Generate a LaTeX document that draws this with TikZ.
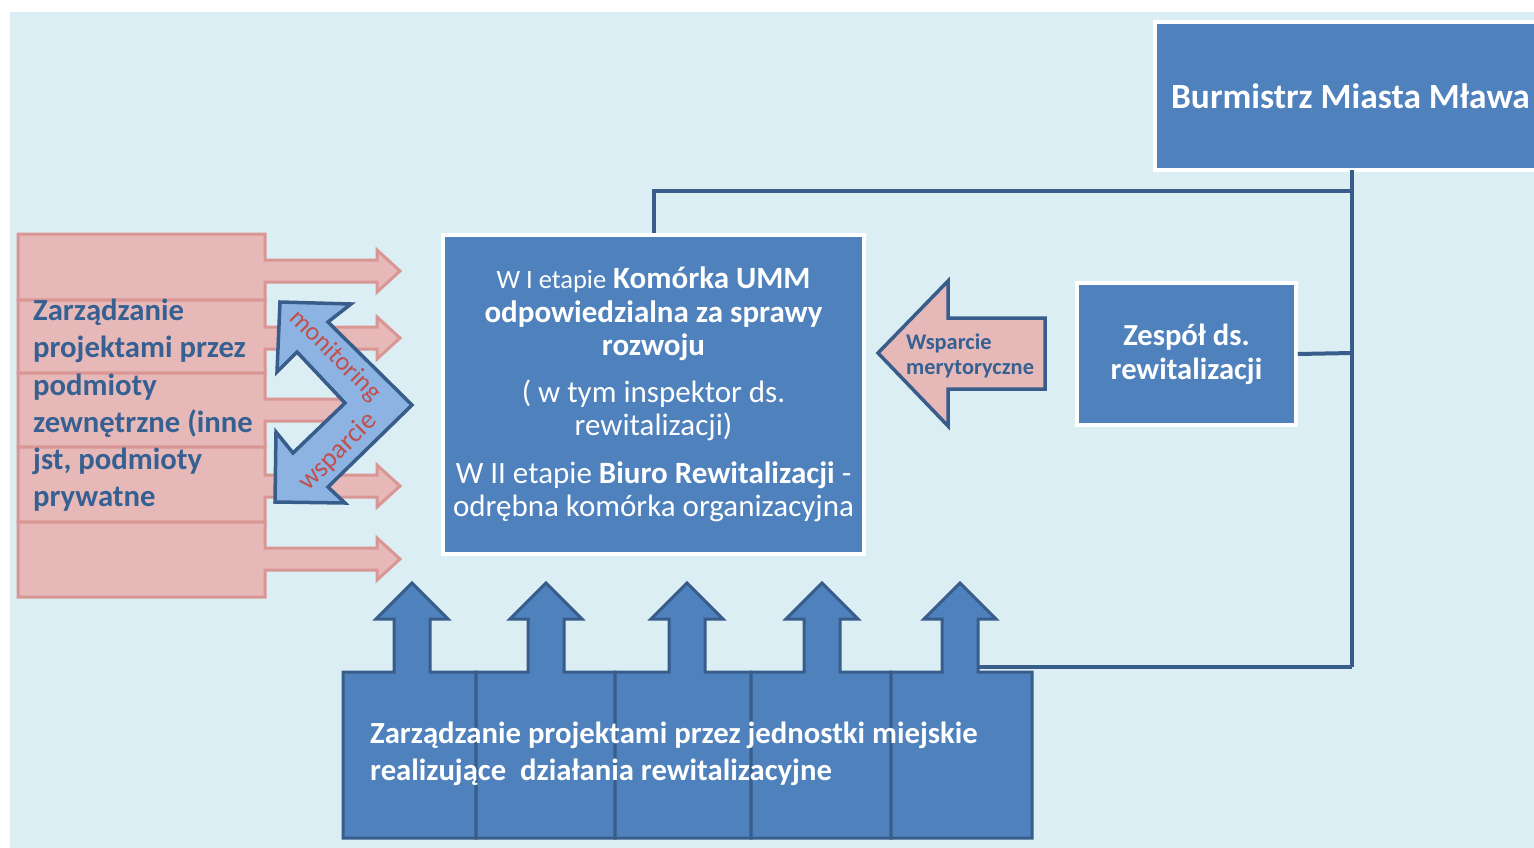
\documentclass[tikz,border=0pt]{standalone}
\usepackage{fontspec}
\setmainfont{Carlito}
\definecolor{bgblue}{HTML}{DBEEF4}
\definecolor{boxblue}{HTML}{4F81BD}
\definecolor{lineblue}{HTML}{385D8A}
\definecolor{pinkfill}{HTML}{E6B9B8}
\definecolor{pinkline}{HTML}{D99694}
\definecolor{darktext}{HTML}{366092}
\definecolor{redtext}{HTML}{C0504D}
\definecolor{chevfill}{HTML}{8DB3E2}
\tikzset{
  whitebox/.style={draw=white, line width=3.5, fill=boxblue, text=white, inner sep=0pt, align=center},
  pinkrow/.style={draw=pinkline, fill=pinkfill, line width=3, line join=miter},
  bluecol/.style={draw=lineblue, fill=boxblue, line width=3, line join=miter},
  conn/.style={draw=lineblue, line width=4},
  chev/.style={draw=lineblue, fill=chevfill, line width=3.5, line join=miter},
  mdarrow/.style={draw=lineblue, fill=pinkfill, line width=3.5, line join=miter},
}
\begin{document}
\begin{tikzpicture}[x=1pt,y=-1pt]
\useasboundingbox (0,0) rectangle (1534,848);
\fill[bgblue] (10,12) rectangle (1545,860);

% Burmistrz box (clipped on the right)
\begin{scope}
\clip (0,0) rectangle (1534,848);
\node[whitebox, minimum width=385, minimum height=148, font=\fontsize{35.4}{40}\selectfont\bfseries] (burm) at (1347.5,96)
  {\hspace*{6pt}Burmistrz Miasta Mława};
\end{scope}

% connectors
\coordinate (trunkTop) at (1352,170);
\coordinate (trunkBot) at (1352,667);
\coordinate (jTop) at (1352,191);
\coordinate (jZ) at (1352,353);

% centre box
\node[whitebox, minimum width=421, minimum height=319, font=\fontsize{31}{33.5}\selectfont] (center) at (653.5,394.5)
  {{\fontsize{26.5}{33.5}\selectfont W I etapie} \textbf{Komórka UMM}\\
   \textbf{odpowiedzialna za sprawy}\\
   \textbf{rozwoju}\\[13pt]
   ( w tym inspektor ds.\\
   rewitalizacji)\\[14pt]
   W II etapie \textbf{Biuro Rewitalizacji} -\\
   odrębna komórka organizacyjna};

% Zespol box
\node[whitebox, minimum width=219, minimum height=142, font=\fontsize{30.6}{34}\selectfont\bfseries] (zesp) at (1186.5,354)
  {Zespół ds.\\ rewitalizacji};

\draw[conn] (trunkTop) -- (trunkBot);
\draw[conn] (center.north) |- (jTop);
\draw[conn] (zesp.east) -- (jZ);

% Wsparcie merytoryczne arrow
\draw[mdarrow] (878,353) -- (948,281) -- (948,318) -- (1045,318) -- (1045,389) -- (948,389) -- (948,426) -- cycle;
\node[anchor=west, text=darktext, align=left, inner sep=0pt, font=\fontsize{22.4}{25}\selectfont\bfseries] (wm) at (906,356)
  {Wsparcie\\ merytoryczne};

% pink rows
\foreach \t/\b/\c in {234/300/271, 300/373/338, 373/447/410, 447/522/486, 522/597/559}{
  \draw[pinkrow] (18,\t) -- (265,\t) -- (265,\c-11) -- (377,\c-11) -- (377,\c-21) -- (400,\c)
     -- (377,\c+21) -- (377,\c+11) -- (265,\c+11) -- (265,\b) -- (18,\b) -- cycle;
}

% chevron double arrow
\draw[chev] (280,302) -- (351,304) -- (328,322) -- (412,405) -- (328,487) -- (345,503)
  -- (275,502) -- (276,432) -- (293,453) -- (345,403) -- (297,352) -- (277,372) -- cycle;
\node[text=redtext, rotate=-45, inner sep=0pt, font=\fontsize{26}{28}\selectfont] (mon) at (335,356)
  {monitoring};
\node[text=redtext, rotate=45, inner sep=0pt, font=\fontsize{27.5}{30}\selectfont] (wsp) at (338,452)
  {wsparcie};

% left text
\node[anchor=north west, text=darktext, align=left, inner sep=0pt, font=\fontsize{30.7}{37.2}\selectfont\bfseries] (lefttxt) at (33,299)
  {Zarządzanie\\ projektami przez\\ podmioty\\ zewnętrzne (inne\\ jst, podmioty\\ prywatne};

% bottom columns with up arrows
\foreach \L/\R/\c in {343/476/412, 476/615/546, 615/751/687, 751/891/822, 891/1032/960}{
  \draw[bluecol] (\L,838) -- (\L,672) -- (\c-18,672) -- (\c-18,619) -- (\c-36,619) -- (\c,583)
     -- (\c+36,619) -- (\c+18,619) -- (\c+18,672) -- (\R,672) -- (\R,838) -- cycle;
}
\coordinate (a5) at (978,667);
\draw[conn] (a5) -- (trunkBot);

\node[anchor=north west, text=white, align=left, inner sep=0pt, font=\fontsize{30.7}{37}\selectfont\bfseries] (bottxt) at (370,722)
  {Zarządzanie projektami przez jednostki miejskie\\ realizujące\ \ działania rewitalizacyjne};
\end{tikzpicture}
\end{document}
